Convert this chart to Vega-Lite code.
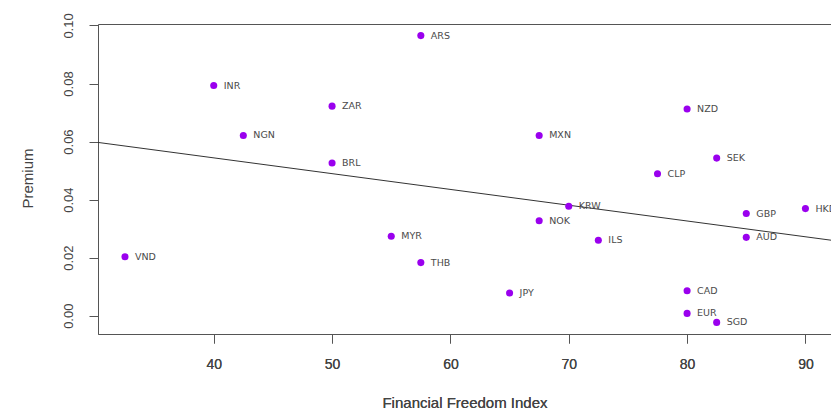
{
  "$schema": "https://vega.github.io/schema/vega-lite/v6.json",
  "width": 733,
  "height": 310,
  "autosize": {"type": "none"},
  "padding": {"left": 98, "top": 24, "right": 0, "bottom": 77},
  "background": "white",
  "config": {
    "view": {"stroke": null},
    "axis": {
      "grid": false,
      "domainColor": "#555555",
      "domainWidth": 1,
      "tickColor": "#555555",
      "tickSize": 9,
      "labelColor": "#444444",
      "titleColor": "#444444",
      "titleFontWeight": "normal"
    }
  },
  "data": {
    "values": [
      {"ccy": "VND", "ffi": 32.5, "premium": 0.0203},
      {"ccy": "INR", "ffi": 40.0, "premium": 0.0793},
      {"ccy": "NGN", "ffi": 42.5, "premium": 0.0621},
      {"ccy": "ZAR", "ffi": 50.0, "premium": 0.0722},
      {"ccy": "BRL", "ffi": 50.0, "premium": 0.0526},
      {"ccy": "MYR", "ffi": 55.0, "premium": 0.0274},
      {"ccy": "ARS", "ffi": 57.5, "premium": 0.0965},
      {"ccy": "THB", "ffi": 57.5, "premium": 0.0183},
      {"ccy": "JPY", "ffi": 65.0, "premium": 0.0078},
      {"ccy": "MXN", "ffi": 67.5, "premium": 0.0621},
      {"ccy": "NOK", "ffi": 67.5, "premium": 0.0327},
      {"ccy": "KRW", "ffi": 70.0, "premium": 0.0377},
      {"ccy": "ILS", "ffi": 72.5, "premium": 0.0260},
      {"ccy": "CLP", "ffi": 77.5, "premium": 0.0489},
      {"ccy": "NZD", "ffi": 80.0, "premium": 0.0712},
      {"ccy": "CAD", "ffi": 80.0, "premium": 0.0086},
      {"ccy": "EUR", "ffi": 80.0, "premium": 0.0008},
      {"ccy": "SEK", "ffi": 82.5, "premium": 0.0543},
      {"ccy": "SGD", "ffi": 82.5, "premium": -0.0023},
      {"ccy": "GBP", "ffi": 85.0, "premium": 0.0352},
      {"ccy": "AUD", "ffi": 85.0, "premium": 0.0270},
      {"ccy": "HKD", "ffi": 90.0, "premium": 0.0369}
    ]
  },
  "encoding": {
    "x": {
      "field": "ffi",
      "type": "quantitative",
      "scale": {"domain": [30.22, 92.16], "nice": false, "zero": false},
      "axis": {
        "values": [40, 50, 60, 70, 80, 90],
        "title": "Financial Freedom Index",
        "labelFont": "Liberation Sans",
        "labelFontSize": 14,
        "labelPadding": 14,
        "titleFont": "Liberation Sans",
        "titleFontSize": 15,
        "titleBaseline": "middle",
        "titleY": 68
      }
    },
    "y": {
      "field": "premium",
      "type": "quantitative",
      "scale": {"domain": [-0.0063, 0.1005], "nice": false, "zero": false},
      "axis": {
        "values": [0, 0.02, 0.04, 0.06, 0.08, 0.1],
        "format": ".2f",
        "title": "Premium",
        "labelAngle": 270,
        "labelAlign": "center",
        "labelBaseline": "middle",
        "labelPadding": 21,
        "labelFont": "Liberation Sans Narrow, Liberation Sans",
        "labelFontSize": 13,
        "titleFont": "Liberation Sans",
        "titleFontSize": 15,
        "titleAngle": 270,
        "titleAlign": "center",
        "titleBaseline": "middle",
        "titleX": -71,
        "titleY": 154
      }
    }
  },
  "layer": [
    {
      "transform": [
        {"regression": "premium", "on": "ffi", "extent": [30.22, 92.16]}
      ],
      "mark": {"type": "line", "color": "#333333", "strokeWidth": 1, "clip": true},
      "encoding": {
        "x": {
          "field": "ffi",
          "type": "quantitative",
          "axis": {"orient": "top", "labels": false, "ticks": false, "title": null, "domain": true}
        }
      }
    },
    {
      "mark": {"type": "circle", "color": "#9A00EE", "opacity": 1, "size": 50}
    },
    {
      "mark": {
        "type": "text",
        "align": "left",
        "baseline": "middle",
        "dx": 10,
        "font": "DejaVu Sans",
        "fontSize": 9.5,
        "color": "#4a4a4a"
      },
      "encoding": {"text": {"field": "ccy"}}
    }
  ],
  "resolve": {"axis": {"x": "independent"}}
}
